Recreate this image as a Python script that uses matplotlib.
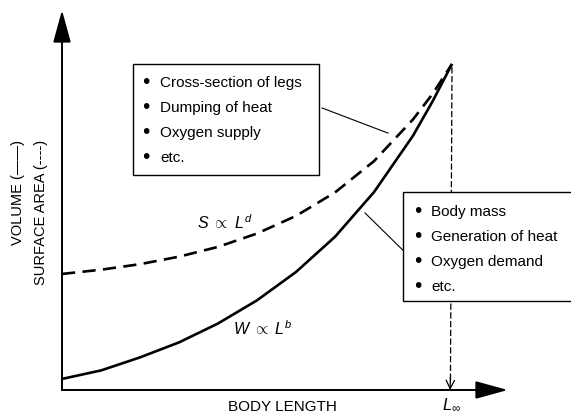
import matplotlib.pyplot as plt
from matplotlib.patches import Rectangle

plt.rcParams['font.family'] = ['Liberation Sans', 'DejaVu Sans']
plt.rcParams['mathtext.fontset'] = 'custom'
plt.rcParams['mathtext.rm'] = 'Liberation Sans'
plt.rcParams['mathtext.it'] = 'Liberation Sans:italic'

# body length relative to L_inf
length_w = [0, 0.1, 0.2, 0.3, 0.4, 0.5, 0.6, 0.7, 0.8, 0.9, 0.95, 1.0]
volume = [0.034, 0.06, 0.1, 0.146, 0.204, 0.275, 0.362, 0.47, 0.607, 0.78, 0.885, 1.0]

length_s = [0, 0.1, 0.2, 0.3, 0.4, 0.5, 0.6, 0.7, 0.8, 0.9, 0.95, 1.0]
surface = [0.356, 0.369, 0.386, 0.409, 0.439, 0.48, 0.534, 0.606, 0.702, 0.83, 0.908, 1.0]

surface_items = ['Cross-section of legs', 'Dumping of heat', 'Oxygen supply', 'etc.']
volume_items = ['Body mass', 'Generation of heat', 'Oxygen demand', 'etc.']

fig = plt.figure(figsize=(5.71, 4.14), dpi=100)
ax = fig.add_axes([0, 0, 1, 1])
# one data unit = L_inf, axis origin at (0, 0)
ax.set_xlim(-62 / 390, 509 / 390)
ax.set_ylim(-23 / 326, 391 / 326)
ax.axis('off')

# axes with arrow heads
arrow = dict(arrowstyle='-|>,head_length=2.0,head_width=0.55', lw=1.4, color='k',
             shrinkA=0, shrinkB=0)
ax.annotate('', xy=(1.143, 0), xytext=(0, 0), arrowprops=arrow)
ax.annotate('', xy=(0, 1.165), xytext=(0, 0), arrowprops=arrow)

# curves
ax.plot(length_w, volume, color='k', lw=1.9, solid_capstyle='butt')
ax.plot(length_s, surface, color='k', lw=1.9, linestyle=(0, (5, 2.8)))

# drop line at L_inf
ax.plot([1.0, 0.996], [0.99, 0.03], color='k', lw=0.9, linestyle=(0, (5, 2)))
ax.annotate('', xy=(0.995, 0.0), xytext=(0.996, 0.04),
            arrowprops=dict(arrowstyle='->,head_length=0.6,head_width=0.3', lw=0.9,
                            color='k', shrinkA=0, shrinkB=0))

# boxes
ax.add_patch(Rectangle((0.182, 0.66), 0.477, 0.34, fc='white', ec='k', lw=1.0, zorder=3))
ax.add_patch(Rectangle((0.874, 0.272), 0.45, 0.336, fc='white', ec='k', lw=1.0, zorder=3))

for i, item in enumerate(surface_items):
    y = (391 - (83 + 25 * i)) / 326
    ax.text(0.215, y, '\u2022', fontsize=15, ha='center', va='center', zorder=4)
    ax.text(0.251, y, item, fontsize=11, va='center', zorder=4)

for i, item in enumerate(volume_items):
    y = (391 - (212 + 25 * i)) / 326
    ax.text(0.913, y, '\u2022', fontsize=15, ha='center', va='center', zorder=4)
    ax.text(0.946, y, item, fontsize=11, va='center', zorder=4)

# leader lines
ax.plot([0.667, 0.836], [0.865, 0.788], color='k', lw=0.8)
ax.plot([0.777, 0.874], [0.543, 0.429], color='k', lw=0.8)

# labels
ax.text(0.346, 0.515, r'$S\ \propto\ L^d$', fontsize=11.5, va='center')
ax.text(0.438, 0.19, r'$W\ \propto\ L^b$', fontsize=11.5, va='center')
ax.text(0.564, -0.049, 'BODY LENGTH', fontsize=11, ha='center', va='center')
ax.text(1.0, -0.066, r'$L_\infty$', fontsize=12, ha='center', va='bottom')
ax.text(-0.113, 0.61, 'VOLUME (\u2014\u2014)', fontsize=10.5, rotation=90,
        ha='center', va='center')
ax.text(-0.054, 0.549, 'SURFACE AREA (----)', fontsize=10.5, rotation=90,
        ha='center', va='center')

fig.savefig('out.png', dpi=100)
